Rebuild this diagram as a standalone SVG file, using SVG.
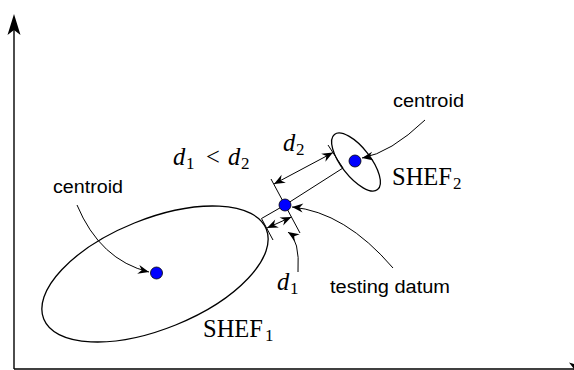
<svg xmlns="http://www.w3.org/2000/svg" width="574" height="370" viewBox="0 0 574 370">
<defs>
<marker id="ah" viewBox="-12 -6 13 12" refX="0" refY="0" markerWidth="13" markerHeight="12" markerUnits="userSpaceOnUse" orient="auto-start-reverse">
<path d="M0,0 L-11,-4.5 L-7.5,0 L-11,4.5 Z" fill="#000"/>
</marker>
</defs>
<style>
.ax{stroke:#000;stroke-width:1.4;fill:none}
.el{stroke:#000;stroke-width:1.3;fill:none}
.ln{stroke:#000;stroke-width:1;fill:none}
.arr{stroke:#000;stroke-width:1;fill:none;marker-end:url(#ah)}
.dbl{stroke:#000;stroke-width:1;fill:none;marker-end:url(#ah);marker-start:url(#ah)}
.dot{fill:#0000ff;stroke:#000;stroke-width:0.8}
.sans{font-family:"Liberation Sans",Arial,sans-serif;font-size:18px;fill:#000}
.math{font-family:"Liberation Serif","Times New Roman",serif;font-size:24.5px;fill:#000}
.it{font-style:italic}
.sub{font-size:17px}
</style>
<rect width="574" height="370" fill="#fff"/>
<g id="axes">
<line class="ax" x1="14" y1="369" x2="14" y2="28"/>
<path d="M14,14 L20.5,35 L14,30 L7.5,35 Z" fill="#000"/>
<line class="ax" x1="14" y1="369" x2="574" y2="369"/>
<path d="M590,369 L569,362.5 L574,369 L569,375.5 Z" fill="#000"/>
</g>
<g id="connectors">
<line class="ln" x1="285" y1="205" x2="343" y2="168"/>
<line class="ln" x1="285" y1="205" x2="261.5" y2="218.5"/>
<line class="ln" x1="271" y1="179" x2="300" y2="233"/>
<line class="ln" x1="328" y1="145" x2="343" y2="168"/>
<line class="ln" x1="261.5" y1="218.5" x2="273" y2="240"/>
<line class="dbl" x1="274" y1="184" x2="333" y2="152.6"/>
<line class="dbl" x1="267" y1="228" x2="291.4" y2="217"/>
<path class="arr" d="M77,205 Q100,260 149,272"/>
<path class="arr" d="M425,120 Q390.5,153 362,158"/>
<path class="arr" d="M393,268 Q345,212 292,207"/>
<path class="arr" d="M298,272 Q300,240 288,232"/>
</g>
<g id="shef1">
<ellipse class="el" cx="155" cy="274" rx="120" ry="55" transform="rotate(-22 155 274)"/>
<circle id="centroid1" class="dot" cx="156.5" cy="273" r="6"/>
<text class="math" x="203" y="337">SHEF<tspan class="sub" x="265" y="341">1</tspan></text>
</g>
<g id="shef2">
<ellipse class="el" cx="356" cy="162" rx="35" ry="14.5" transform="rotate(52 356 162)"/>
<circle id="centroid2" class="dot" cx="355" cy="161" r="6"/>
<text class="math" x="392" y="185">SHEF<tspan class="sub" x="453" y="189">2</tspan></text>
</g>
<g id="datum">
<circle class="dot" cx="285" cy="205" r="6"/>
</g>
<g id="labels">
<text class="sans" x="53" y="193" textLength="70" lengthAdjust="spacingAndGlyphs">centroid</text>
<text class="sans" x="393" y="107" textLength="71" lengthAdjust="spacingAndGlyphs">centroid</text>
<text class="sans" x="330" y="293" textLength="120" lengthAdjust="spacingAndGlyphs">testing datum</text>
<text class="math"><tspan class="it" x="173" y="165">d</tspan><tspan class="sub" x="186" y="169">1</tspan><tspan x="206" y="165">&lt;</tspan><tspan class="it" x="228" y="165">d</tspan><tspan class="sub" x="241" y="169">2</tspan></text>
<text class="math"><tspan class="it" x="283" y="151">d</tspan><tspan class="sub" x="296" y="155">2</tspan></text>
<text class="math"><tspan class="it" x="277" y="290">d</tspan><tspan class="sub" x="290" y="294">1</tspan></text>
</g>
</svg>
